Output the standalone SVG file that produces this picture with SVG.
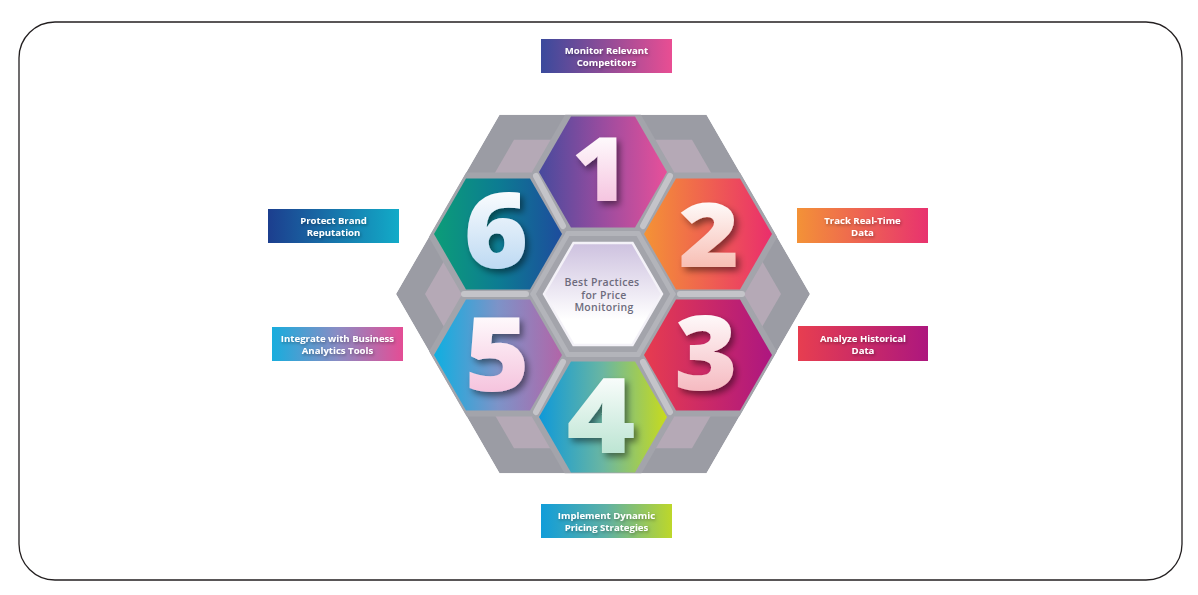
<svg xmlns="http://www.w3.org/2000/svg" width="1198" height="595" viewBox="0 0 1198 595">
<defs>
<style>
.lbl{font-family:"Open Sans","Liberation Sans",sans-serif;font-weight:700;font-size:9.6px;fill:#ffffff;text-anchor:middle}
.num{font-family:"Open Sans","Liberation Sans",sans-serif;font-weight:800;text-anchor:middle}
.ctr{font-family:"Open Sans","Liberation Sans",sans-serif;font-weight:600;font-size:10.5px;letter-spacing:0.3px;fill:#6d6b7c;text-anchor:middle}
.grid{stroke:#c4c4c9;stroke-width:6;stroke-linecap:round;fill:none}
.grid2{stroke:#b3b4ba;stroke-width:5;stroke-linecap:round;fill:none}
.rim{fill:#a3a4ab}
</style>
<clipPath id="outer"><polygon points="396,294 499.5,114.7 706.5,114.7 810,294 706.5,473.3 499.5,473.3"/></clipPath>
<filter id="sh" x="-30%" y="-30%" width="160%" height="160%"><feDropShadow dx="3" dy="4" stdDeviation="3" flood-color="#000" flood-opacity="0.45"/></filter>
<filter id="tsh" x="-20%" y="-40%" width="140%" height="180%"><feDropShadow dx="1" dy="1.5" stdDeviation="1.5" flood-color="#000" flood-opacity="0.35"/></filter>
<linearGradient id="g1"><stop offset="0" stop-color="#474a9d"/><stop offset="0.5" stop-color="#9a4c9f"/><stop offset="1" stop-color="#e8509a"/></linearGradient>
<linearGradient id="g2"><stop offset="0" stop-color="#f49335"/><stop offset="1" stop-color="#ea2e6c"/></linearGradient>
<linearGradient id="g3"><stop offset="0" stop-color="#e73c4f"/><stop offset="1" stop-color="#ad1680"/></linearGradient>
<linearGradient id="g4"><stop offset="0" stop-color="#0e99d9"/><stop offset="0.5" stop-color="#6ab6a2"/><stop offset="1" stop-color="#c8db1c"/></linearGradient>
<linearGradient id="g5"><stop offset="0" stop-color="#0eafe1"/><stop offset="0.5" stop-color="#7d93c8"/><stop offset="1" stop-color="#b265a8"/></linearGradient>
<linearGradient id="g6"><stop offset="0" stop-color="#0c9d78"/><stop offset="0.5" stop-color="#0c7c92"/><stop offset="1" stop-color="#1d4c9d"/></linearGradient>
<linearGradient id="l1"><stop offset="0" stop-color="#3a4a9c"/><stop offset="1" stop-color="#e94e93"/></linearGradient>
<linearGradient id="l2"><stop offset="0" stop-color="#f39237"/><stop offset="1" stop-color="#e8326f"/></linearGradient>
<linearGradient id="l3"><stop offset="0" stop-color="#e73e50"/><stop offset="1" stop-color="#ad177e"/></linearGradient>
<linearGradient id="l4"><stop offset="0" stop-color="#119dd9"/><stop offset="0.5" stop-color="#5fb1a4"/><stop offset="1" stop-color="#bdd72a"/></linearGradient>
<linearGradient id="l5"><stop offset="0" stop-color="#18addd"/><stop offset="0.5" stop-color="#8a8cc4"/><stop offset="1" stop-color="#e44d95"/></linearGradient>
<linearGradient id="l6"><stop offset="0" stop-color="#1c3e8e"/><stop offset="1" stop-color="#12abc8"/></linearGradient>
<linearGradient id="n1" x1="0" y1="0" x2="0" y2="1"><stop offset="0.2" stop-color="#ffffff"/><stop offset="1" stop-color="#f2b0d5"/></linearGradient>
<linearGradient id="n2" x1="0" y1="0" x2="0" y2="1"><stop offset="0.2" stop-color="#ffffff"/><stop offset="1" stop-color="#f5a698"/></linearGradient>
<linearGradient id="n3" x1="0" y1="0" x2="0" y2="1"><stop offset="0.2" stop-color="#ffffff"/><stop offset="1" stop-color="#f2a2ab"/></linearGradient>
<linearGradient id="n4" x1="0" y1="0" x2="0" y2="1"><stop offset="0.2" stop-color="#ffffff"/><stop offset="1" stop-color="#a4dbc3"/></linearGradient>
<linearGradient id="n5" x1="0" y1="0" x2="0" y2="1"><stop offset="0.2" stop-color="#ffffff"/><stop offset="1" stop-color="#f2afd2"/></linearGradient>
<linearGradient id="n6" x1="0" y1="0" x2="0" y2="1"><stop offset="0.2" stop-color="#ffffff"/><stop offset="1" stop-color="#a6ccee"/></linearGradient>
<linearGradient id="gc" x1="0" y1="0" x2="0" y2="1"><stop offset="0" stop-color="#cdc1df"/><stop offset="0.75" stop-color="#ffffff"/></linearGradient>
</defs>

<rect x="19" y="22" width="1163" height="558" rx="36" ry="36" fill="#ffffff" stroke="#231f20" stroke-width="1.3"/>

<g id="background" clip-path="url(#outer)">
<polygon points="396,294 499.5,114.7 706.5,114.7 810,294 706.5,473.3 499.5,473.3" fill="#9b9ca4"/>
<polygon points="425,294 514,139.8 692,139.8 781,294 692,448.2 514,448.2" fill="#b5a9b6"/>
<polygon class="rim" points="532,172 567.5,110.5 638.5,110.5 674,172 638.5,233.5 567.5,233.5"/>
<polygon class="rim" points="637,234 672.5,172.5 743.5,172.5 779,234 743.5,295.5 672.5,295.5"/>
<polygon class="rim" points="637,355 672.5,293.5 743.5,293.5 779,355 743.5,416.5 672.5,416.5"/>
<polygon class="rim" points="532,417 567.5,355.5 638.5,355.5 674,417 638.5,478.5 567.5,478.5"/>
<polygon class="rim" points="427,355 462.5,293.5 533.5,293.5 569,355 533.5,416.5 462.5,416.5"/>
<polygon class="rim" points="427,234 462.5,172.5 533.5,172.5 569,234 533.5,295.5 462.5,295.5"/>
<polygon class="rim" points="532,294 567.5,232.5 638.5,232.5 674,294 638.5,355.5 567.5,355.5"/>
</g>

<g id="connectors">
<line class="grid2" x1="568" y1="233.5" x2="638" y2="233.5"/>
<line class="grid2" x1="638" y1="233.5" x2="673" y2="294"/>
<line class="grid2" x1="673" y1="294" x2="638" y2="354.5"/>
<line class="grid2" x1="638" y1="354.5" x2="568" y2="354.5"/>
<line class="grid2" x1="568" y1="354.5" x2="533" y2="294"/>
<line class="grid2" x1="533" y1="294" x2="568" y2="233.5"/>
<line class="grid" x1="536" y1="176" x2="563" y2="226"/>
<line class="grid" x1="670" y1="176" x2="643" y2="226"/>
<line class="grid" x1="680" y1="294" x2="742" y2="294"/>
<line class="grid" x1="670" y1="412" x2="643" y2="362"/>
<line class="grid" x1="536" y1="412" x2="563" y2="362"/>
<line class="grid" x1="464" y1="294" x2="526" y2="294"/>
</g>

<g id="center">
<polygon points="544,294 573.5,242.9 632.5,242.9 662,294 632.5,345.1 573.5,345.1" fill="url(#gc)" stroke="#f4f2f8" stroke-width="2.5"/>
<text class="ctr" x="602" y="286">Best Practices</text>
<text class="ctr" x="604" y="298.5">for Price</text>
<text class="ctr" x="604" y="311">Monitoring</text>
</g>

<g id="node1">
<polygon points="539,172 571,116.6 635,116.6 667,172 635,227.4 571,227.4" fill="url(#g1)"/>
<text class="num" x="600" y="201" font-size="88" fill="url(#n1)" filter="url(#sh)" transform="translate(600 0) scale(1.1 1) translate(-600 0)">1</text>
</g>
<g id="node2">
<polygon points="644,234 676,178.6 740,178.6 772,234 740,289.4 676,289.4" fill="url(#g2)"/>
<text class="num" x="709" y="267" font-size="88" fill="url(#n2)" filter="url(#sh)" transform="translate(709 0) scale(1.18 1) translate(-709 0)">2</text>
</g>
<g id="node3">
<polygon points="644,355 676,299.6 740,299.6 772,355 740,410.4 676,410.4" fill="url(#g3)"/>
<text class="num" x="706" y="390" font-size="103" fill="url(#n3)" filter="url(#sh)" transform="translate(706 0) scale(1.05 1) translate(-706 0)">3</text>
</g>
<g id="node4">
<polygon points="539,417 571,361.6 635,361.6 667,417 635,472.4 571,472.4" fill="url(#g4)"/>
<text class="num" x="601" y="453" font-size="105" fill="url(#n4)" filter="url(#sh)" transform="translate(601 0) scale(1.12 1) translate(-601 0)">4</text>
</g>
<g id="node5">
<polygon points="434,355 466,299.6 530,299.6 562,355 530,410.4 466,410.4" fill="url(#g5)"/>
<text class="num" x="497" y="391" font-size="103" fill="url(#n5)" filter="url(#sh)" transform="translate(497 0) scale(1.08 1) translate(-497 0)">5</text>
</g>
<g id="node6">
<polygon points="434,234 466,178.6 530,178.6 562,234 530,289.4 466,289.4" fill="url(#g6)"/>
<text class="num" x="496" y="268" font-size="105" fill="url(#n6)" filter="url(#sh)" transform="translate(496 0) scale(1.05 1) translate(-496 0)">6</text>
</g>

<g id="label1">
<rect x="541" y="39" width="131" height="34" fill="url(#l1)"/>
<text class="lbl" x="606.5" y="53.5" filter="url(#tsh)">Monitor Relevant</text>
<text class="lbl" x="606.5" y="65.5" filter="url(#tsh)">Competitors</text>
</g>
<g id="label2">
<rect x="797" y="208" width="131" height="35" fill="url(#l2)"/>
<text class="lbl" x="862.5" y="223.5" filter="url(#tsh)">Track Real-Time</text>
<text class="lbl" x="862.5" y="235.5" filter="url(#tsh)">Data</text>
</g>
<g id="label3">
<rect x="798" y="326" width="130" height="35" fill="url(#l3)"/>
<text class="lbl" x="863" y="341.5" filter="url(#tsh)">Analyze Historical</text>
<text class="lbl" x="863" y="353.5" filter="url(#tsh)">Data</text>
</g>
<g id="label4">
<rect x="541" y="504" width="131" height="34" fill="url(#l4)"/>
<text class="lbl" x="606.5" y="518.5" filter="url(#tsh)">Implement Dynamic</text>
<text class="lbl" x="606.5" y="530.5" filter="url(#tsh)">Pricing Strategies</text>
</g>
<g id="label5">
<rect x="272" y="327" width="131" height="34" fill="url(#l5)"/>
<text class="lbl" x="337.5" y="341.5" filter="url(#tsh)">Integrate with Business</text>
<text class="lbl" x="337.5" y="353.5" filter="url(#tsh)">Analytics Tools</text>
</g>
<g id="label6">
<rect x="268" y="209" width="131" height="34" fill="url(#l6)"/>
<text class="lbl" x="333.5" y="223.5" filter="url(#tsh)">Protect Brand</text>
<text class="lbl" x="333.5" y="235.5" filter="url(#tsh)">Reputation</text>
</g>
</svg>
